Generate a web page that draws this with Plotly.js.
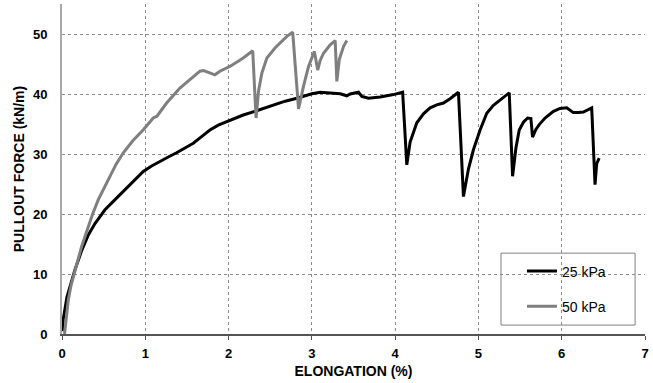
<!DOCTYPE html>
<html>
<head>
<meta charset="utf-8">
<script src="https://cdn.plot.ly/plotly-3.0.1.min.js"></script>
<style>html,body{margin:0;padding:0;background:#fff;}#chart{width:653px;height:383px;}</style>
</head>
<body>
<div id="chart"></div>
<script>
// 25 kPa series
const x25 = [0, 0.004, 0.015, 0.036, 0.06, 0.096, 0.156, 0.236, 0.316, 0.396, 0.516, 0.616, 0.716, 0.80, 0.876, 0.976, 1.076, 1.176, 1.276, 1.376, 1.476, 1.576, 1.676, 1.776, 1.876, 1.976, 2.076, 2.176, 2.336, 2.54, 2.68, 2.82, 3.0, 3.10, 3.22, 3.34, 3.42, 3.46, 3.56, 3.60, 3.68, 3.82, 3.98, 4.09, 4.14, 4.18, 4.26, 4.34, 4.42, 4.50, 4.58, 4.66, 4.76, 4.82, 4.88, 4.94, 5.02, 5.10, 5.18, 5.26, 5.37, 5.41, 5.45, 5.49, 5.54, 5.59, 5.63, 5.65, 5.69, 5.73, 5.80, 5.90, 5.98, 6.06, 6.14, 6.20, 6.26, 6.36, 6.40, 6.42, 6.45];
const y25 = [0.5, 0.7, 2.5, 4.6, 6.2, 7.9, 10.7, 13.9, 16.5, 18.4, 20.7, 22.1, 23.5, 24.7, 25.7, 27.1, 28, 28.8, 29.5, 30.2, 31, 31.8, 32.9, 34.0, 34.8, 35.4, 36, 36.5, 37.2, 38.2, 38.8, 39.3, 40.05, 40.3, 40.2, 40.05, 39.7, 40, 40.3, 39.6, 39.3, 39.5, 39.9, 40.3, 28.2, 32, 35.2, 36.7, 37.7, 38.2, 38.5, 39.2, 40.3, 22.9, 27.5, 30.7, 34, 36.8, 38.1, 39.05, 40.2, 26.3, 31, 34, 35.3, 36, 35.9, 32.8, 34.1, 34.9, 36, 37.1, 37.6, 37.7, 36.9, 36.9, 37, 37.7, 24.9, 28.4, 29.3];

// 50 kPa series
const x50 = [0.03, 0.05, 0.076, 0.11, 0.156, 0.20, 0.236, 0.28, 0.316, 0.368, 0.436, 0.516, 0.576, 0.65, 0.736, 0.85, 0.976, 1.096, 1.14, 1.256, 1.416, 1.536, 1.656, 1.70, 1.776, 1.836, 1.896, 2.016, 2.176, 2.29, 2.33, 2.36, 2.40, 2.46, 2.56, 2.64, 2.70, 2.77, 2.84, 2.90, 2.96, 3.03, 3.07, 3.10, 3.14, 3.22, 3.28, 3.30, 3.33, 3.38, 3.42];
const y50 = [0, 3, 5.7, 8.2, 10.7, 12.8, 14.6, 16.4, 17.9, 20, 22.4, 24.6, 26.4, 28.3, 30.2, 32.2, 34.05, 36, 36.3, 38.5, 41, 42.4, 43.8, 43.9, 43.5, 43.2, 43.8, 44.6, 46, 47.2, 36, 40.5, 43.5, 46, 47.7, 48.8, 49.6, 50.3, 37.5, 41.3, 44.6, 47.1, 44, 45.6, 46.8, 48.2, 48.9, 42.1, 45.8, 47.9, 48.9];

const seriesNames = ['25 kPa', '50 kPa'];
const xTicks = [0, 1, 2, 3, 4, 5, 6, 7];
const yTicks = [0, 10, 20, 30, 40, 50];

const FONT = '"Liberation Sans", Arial, sans-serif';

const traces = [
  {x: x25, y: y25, name: seriesNames[0], mode: 'lines', legendgroup: 'a',
   line: {color: '#000000', width: 3}},
  {x: x50, y: y50, name: seriesNames[1], mode: 'lines', legendgroup: 'b',
   line: {color: '#7f7f7f', width: 3}}
];

const layout = {
  width: 653, height: 383,
  margin: {l: 62, r: 8, t: 4, b: 49},
  paper_bgcolor: '#ffffff', plot_bgcolor: '#ffffff',
  font: {family: FONT, color: '#000'},
  showlegend: true,
  legend: {x: 0.789, y: 0.238, xanchor: 'left', yanchor: 'top',
           bgcolor: 'rgba(0,0,0,0)', borderwidth: 0,
           font: {family: FONT, size: 14, color: '#000'},
           tracegroupgap: 14, traceorder: 'grouped'},
  shapes: [
    {type: 'rect', xref: 'paper', yref: 'paper', x0: 0.753, x1: 0.983, y0: 0.027, y1: 0.245,
     line: {color: '#808080', width: 1}, fillcolor: '#ffffff', layer: 'below'}
  ],
  xaxis: {
    range: [0, 7], tickvals: xTicks, ticktext: xTicks.map(String),
    showgrid: true, gridcolor: '#8a8a8a', griddash: 'dot', gridwidth: 1,
    zeroline: false, showline: true, linecolor: '#555', linewidth: 1.5,
    ticks: 'outside', ticklen: 4, tickcolor: '#555', tickwidth: 1,
    ticklabelstandoff: 3,
    tickfont: {family: FONT, size: 13, weight: 'bold', color: '#000'},
    title: {text: 'ELONGATION (%)', font: {family: FONT, size: 14, weight: 'bold', color: '#000'}, standoff: 6},
    fixedrange: true
  },
  yaxis: {
    range: [0, 55], tickvals: yTicks, ticktext: yTicks.map(String),
    showgrid: true, gridcolor: '#8a8a8a', griddash: 'dot', gridwidth: 1,
    zeroline: false, showline: true, linecolor: '#a8a8a8', linewidth: 2,
    ticks: '', ticklabelstandoff: 10,
    tickfont: {family: FONT, size: 13, weight: 'bold', color: '#000'},
    title: {text: 'PULLOUT FORCE (kN/m)', font: {family: FONT, size: 14, weight: 'bold', color: '#000'}, standoff: 5},
    fixedrange: true
  }
};

Plotly.newPlot('chart', traces, layout, {displayModeBar: false, staticPlot: true});
</script>
</body>
</html>
